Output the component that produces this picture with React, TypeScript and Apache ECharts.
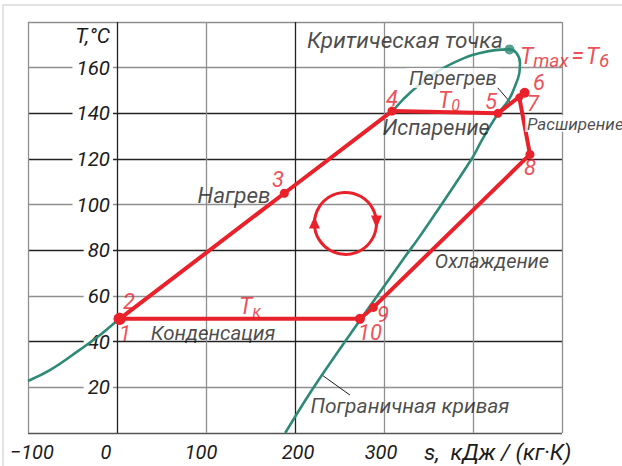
import { useEffect, useRef } from 'react';
import * as echarts from 'echarts';

// ---- axes ----
const sTicks = [-100, 0, 100, 200, 300, 400, 500];
const sTickLabels = ['−100', '0', '100', '200', '300', '', ''];
const tTicks = [0, 20, 40, 60, 80, 100, 120, 140, 160, 180];
const tTickLabels = ['', '20', '40', '60', '80', '100', '120', '140', '160', ''];

// ---- boundary (saturation) curve, s [kJ/(kg·K)], T [°C] ----
const boundaryCurve: [number, number][] = [
  [-100, 22.8], [-75, 27.6], [-42, 36.4], [-19, 42.9], [3, 50], [188, 105],
  [309, 141], [321, 145.9], [337, 151.6], [363, 159], [393, 164.7], [408, 166.4],
  [425, 167.7], [441, 168], [449, 166.3], [452.8, 162], [452, 157.5], [447, 151.7],
  [440, 145.8], [428.4, 140], [410, 128.3], [398.5, 120], [340, 86], [321, 75.8],
  [228, 24.1], [189, 0],
];
const criticalPoint: [number, number] = [441, 168];

// ---- cycle 1-3-4-5-6-7-8-9-10-1 ----
const cycleNames = ['1', '3', '4', '5', '6', '7', '8', '9', '10', '1'];
const cyclePoints: [number, number][] = [
  [3, 50], [188, 105], [309, 141], [428, 140], [458, 149], [452, 147],
  [464, 122], [288, 55], [273, 50], [3, 50],
];
const cycleArrowCenter: [number, number] = [256.7, 91.8];

// ---- leader lines ----
const leaderLines: [number, number][][] = [
  [[427, 151.5], [441.6, 145]],
  [[230.3, 25.4], [261.8, 16.6]],
];

// ---- texts: [text, s, T] ----
const stageLabels: [string, number, number][] = [
  ['Критическая точка', 323.6, 172.1],
  ['Перегрев', 377.5, 155.5],
  ['Испарение', 358.4, 134.0],
  ['Расширение', 458.5, 135.5],
  ['Нагрев', 131.5, 104.2],
  ['Охлаждение', 421.3, 75.3],
  ['Конденсация', 107.9, 43.8],
  ['Пограничная кривая', 329.2, 11.8],
];
const pointLabels: [string, number, number][] = [
  ['1', 9, 43.4], ['2', 13.5, 57.4], ['3', 180.9, 111.2], ['4', 309, 146.3],
  ['5', 420.2, 145], ['6', 474.2, 153.3], ['7', 467.4, 144.2], ['8', 464, 116.1],
  ['9', 298.9, 52.1], ['10', 284.3, 43.8],
];
const tempLabels: [string, number, number][] = [
  ['{m|T}{s|0}', 373, 145.6],
  ['{m|T}{s|к}', 149.4, 55.5],
  ['{m|T}{s2|max}{e|=}{m|T}{s2|6}', 503, 164.7],
];

const RED = '#e8212b';
const TEAL = '#2e8a76';
const INK = '#1c1c1c';
const GRAY = '#8f8f8f';
const DARK = '#222222';
const FONT = 'Roboto';
const sGridColors = [GRAY, DARK, GRAY, DARK, GRAY, GRAY, GRAY];
const tGridColors = ['#555555', GRAY, DARK, GRAY, DARK, GRAY, DARK, DARK, GRAY, GRAY];
const sLabelShift = [4, -11, -5, 3, -3, 0, 0];
const cycleDotSizes = [12, 9, 9, 9, 10, 8, 9, 9, 10, 12];
const stageFontSizes = [22.5, 20.5, 21.5, 17, 22.5, 20, 20.5, 21];
const stageAligns = ['center', 'center', 'center', 'left', 'center', 'center', 'center', 'center'];

export default function App() {
  const ref = useRef<HTMLDivElement>(null);
  useEffect(() => {
    if (!ref.current) return;
    const chart = echarts.init(ref.current, undefined, { renderer: 'svg' });

    const xRich: Record<string, any> = {};
    sLabelShift.forEach((d, i) => {
      xRich['l' + i] = {
        fontSize: 20, fontStyle: 'italic', fontFamily: FONT, color: INK,
        padding: d >= 0 ? [0, 0, 0, 2 * d] : [0, -2 * d, 0, 0],
      };
    });

    const baseText = { fontFamily: FONT, fontStyle: 'italic' as const };

    chart.setOption({
      animation: false,
      grid: { left: 28, right: 60, top: 22, bottom: 33, containLabel: false },
      xAxis: {
        type: 'value', min: -100, max: 500, interval: 100,
        axisLine: { show: false }, axisTick: { show: false },
        axisLabel: {
          margin: 9,
          formatter: (v: number) => {
            const i = sTicks.indexOf(v);
            if (i < 0 || !sTickLabels[i]) return '';
            return '{l' + i + '|' + sTickLabels[i] + '}';
          },
          rich: xRich,
        },
        splitLine: { show: true, lineStyle: { color: sGridColors, width: 1.3 } },
      },
      yAxis: {
        type: 'value', min: 0, max: 180, interval: 20, position: 'left', offset: -89,
        axisLine: { show: false }, axisTick: { show: false },
        axisLabel: {
          formatter: (v: number) => {
            const i = tTicks.indexOf(v);
            return i < 0 ? '' : tTickLabels[i];
          },
          ...baseText, fontSize: 20.5, color: INK, margin: 4,
          backgroundColor: '#ffffff', padding: [0, 3, 0, 4],
        },
        splitLine: { show: true, lineStyle: { color: tGridColors, width: 1.3 } },
      },
      graphic: [
        { type: 'rect', shape: { x: 3, y: 5, width: 700, height: 600 }, style: { fill: 'none', stroke: '#d9d9d9', lineWidth: 1.5 }, silent: true },
        { type: 'text', x: 110, y: 36, style: { text: 'T,°C', font: `italic 21px ${FONT}`, fill: INK, textAlign: 'right', textVerticalAlign: 'middle' }, z: 10 },
        { type: 'text', x: 424, y: 452, style: { text: 's,  кДж / (кг·К)', font: `italic 22.5px ${FONT}`, fill: INK, textAlign: 'left', textVerticalAlign: 'middle' }, z: 10 },
      ],
      series: [
        {
          type: 'line', data: boundaryCurve, smooth: 0.4, showSymbol: false, silent: true, z: 2,
          lineStyle: { color: TEAL, width: 2.6 },
        },
        {
          type: 'scatter', data: [criticalPoint], symbolSize: 10, silent: true, z: 3,
          itemStyle: { color: TEAL },
        },
        {
          type: 'lines', coordinateSystem: 'cartesian2d', silent: true, z: 2,
          data: leaderLines.map((c) => ({ coords: c })),
          lineStyle: { color: INK, width: 1, opacity: 1 },
        },
        {
          type: 'line', data: cyclePoints.map((p, i) => ({ value: p, name: cycleNames[i] })),
          silent: true, z: 4, showSymbol: true, symbol: 'circle',
          symbolSize: (_v: any, p: any) => cycleDotSizes[p.dataIndex],
          lineStyle: { color: RED, width: 4, join: 'round' },
          itemStyle: { color: RED },
        },
        {
          type: 'custom', coordinateSystem: 'cartesian2d', data: [cycleArrowCenter], silent: true, z: 4,
          renderItem: (_params: any, api: any) => {
            const c = api.coord([api.value(0), api.value(1)]);
            const cx = c[0], cy = c[1], r = 31;
            return {
              type: 'group',
              children: [
                { type: 'circle', shape: { cx, cy, r }, style: { fill: 'none', stroke: RED, lineWidth: 3 } },
                { type: 'polygon', shape: { points: [[cx + r - 5.5, cy - 8], [cx + r + 5.5, cy - 8], [cx + r, cy + 5]] }, style: { fill: RED } },
                { type: 'polygon', shape: { points: [[cx - r - 5.5, cy + 5], [cx - r + 5.5, cy + 5], [cx - r, cy - 7]] }, style: { fill: RED } },
              ],
            };
          },
        },
        {
          type: 'scatter', silent: true, z: 6, clip: false, symbolSize: 1,
          itemStyle: { color: 'transparent' },
          data: stageLabels.map(([t, s, T], i) => ({
            value: [s, T],
            label: {
              show: true, position: 'inside', formatter: t, ...baseText, fontSize: stageFontSizes[i], color: INK,
              align: stageAligns[i], verticalAlign: 'middle',
              ...(t === 'Расширение'
                ? { backgroundColor: '#ffffff', padding: [0, 0, 0, 2] }
                : t === 'Перегрев' ? { backgroundColor: '#ffffff', padding: [0, 3, 0, 3] } : {}),
            },
          })),
        },
        {
          type: 'scatter', silent: true, z: 6, clip: false, symbolSize: 1,
          itemStyle: { color: 'transparent' },
          data: pointLabels.map(([t, s, T]) => ({
            value: [s, T],
            label: {
              show: true, position: 'inside', formatter: t, ...baseText, fontSize: 22, color: RED,
              align: 'center', verticalAlign: 'middle',
            },
          })),
        },
        {
          type: 'scatter', silent: true, z: 6, clip: false, symbolSize: 1,
          itemStyle: { color: 'transparent' },
          data: tempLabels.map(([t, s, T]) => ({
            value: [s, T],
            label: {
              show: true, position: 'inside', formatter: t, color: RED,
              align: 'center', verticalAlign: 'middle',
              rich: {
                m: { ...baseText, fontSize: 23, color: RED, lineHeight: 26, verticalAlign: 'middle' },
                e: { ...baseText, fontSize: 23, color: RED, lineHeight: 26, verticalAlign: 'middle', padding: [0, 2, 0, 3] },
                s: { ...baseText, fontSize: 16, color: RED, lineHeight: 22, verticalAlign: 'bottom' },
                s2: { ...baseText, fontSize: 19, color: RED, lineHeight: 20, verticalAlign: 'bottom' },
              },
            },
          })),
        },
      ],
    });
    return () => chart.dispose();
  }, []);
  return <div ref={ref} style={{ position: 'absolute', left: 0, top: 0, width: 622, height: 466 }} />;
}
